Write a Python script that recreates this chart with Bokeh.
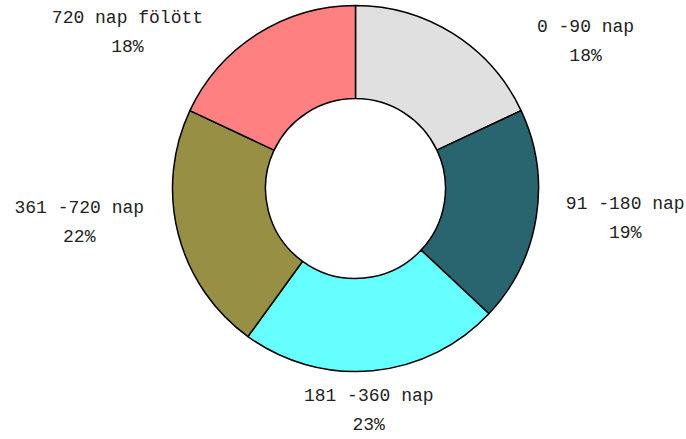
import math
from bokeh.plotting import figure
from bokeh.models import Range1d, ColumnDataSource
from bokeh.core.properties import value
from bokeh.embed import file_html
from bokeh.resources import INLINE

# ---- data ----
categories = ["0 -90 nap", "91 -180 nap", "181 -360 nap", "361 -720 nap", "720 nap fölött"]
percents = [18, 19, 23, 22, 18]
colors = ["#E0E0E0", "#29656F", "#66FFFF", "#968F44", "#FF8080"]

# ---- layout (pixel-like data units) ----
W, H = 686, 439
cx, cy = 355, 439 - 188
r_out, r_in = 183, 90
# label offsets from the outer-ring point at each slice's mid angle (dx, dy up)
label_dx = [132, 89, -4, -99, -130]
label_dy = [-8, -1, -40, 12, 1]
line_gap = 29

total = sum(percents)
starts, ends, lx, ly1, ly2 = [], [], [], [], []
cum = 0.0
for i, p in enumerate(percents):
    a0 = math.pi / 2 - 2 * math.pi * cum / total
    cum += p
    a1 = math.pi / 2 - 2 * math.pi * cum / total
    starts.append(a0)
    ends.append(a1)
    m = (a0 + a1) / 2
    px = cx + r_out * math.cos(m) + label_dx[i]
    py = cy + r_out * math.sin(m) + label_dy[i]
    lx.append(px)
    ly1.append(py + line_gap / 2)
    ly2.append(py - line_gap / 2)

src = ColumnDataSource(dict(
    x=[cx] * len(percents), y=[cy] * len(percents),
    start=starts, end=ends, color=colors,
    lx=lx, ly1=ly1, ly2=ly2,
    name=categories, pct=[f"{p}%" for p in percents],
))

p = figure(width=W, height=H, output_backend="svg", toolbar_location=None,
           x_range=Range1d(0, W), y_range=Range1d(0, H),
           min_border=0)
p.axis.visible = False
p.grid.visible = False
p.outline_line_color = None

p.annular_wedge(x="x", y="y", inner_radius=r_in, outer_radius=r_out,
                start_angle="start", end_angle="end", direction="clock",
                fill_color="color", line_color="black", line_width=1.5,
                source=src)

p.text(x="lx", y="ly1", text="name", source=src, text_align="center",
       text_baseline="middle", text_font=value("Liberation Mono"),
       text_font_size="18px", text_color="#222222")
p.text(x="lx", y="ly2", text="pct", source=src, text_align="center",
       text_baseline="middle", text_font=value("Liberation Mono"),
       text_font_size="18px", text_color="#222222")

open("out.html", "w").write(file_html(p, INLINE))
